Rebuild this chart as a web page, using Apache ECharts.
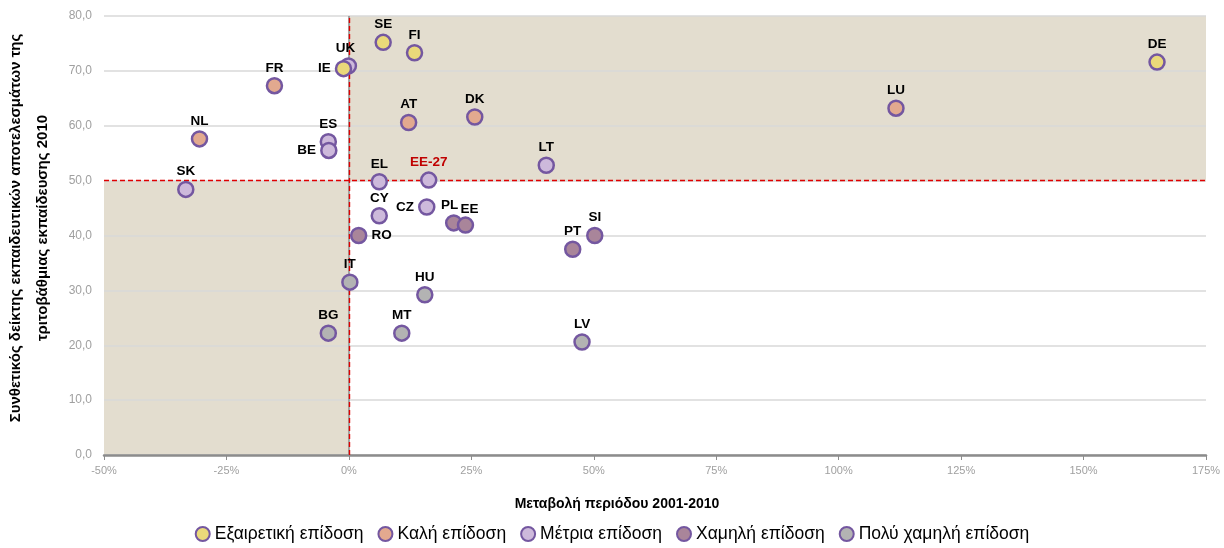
<!DOCTYPE html>
<html>
<head>
<meta charset="utf-8">
<script src="https://cdn.jsdelivr.net/npm/echarts@6/dist/echarts.min.js"></script>
<style>
html,body{margin:0;padding:0;background:#fff;}
#chart{width:1224px;height:548px;}
</style>
</head>
<body>
<div id="chart"></div>
<script>
// ---- data ----
const groupNames = ['Εξαιρετική επίδοση', 'Καλή επίδοση', 'Μέτρια επίδοση', 'Χαμηλή επίδοση', 'Πολύ χαμηλή επίδοση'];
const countries = ['SE','FI','IE','DE','FR','NL','AT','DK','LU','UK','ES','BE','SK','EL','EE-27','CY','CZ','LT','PL','EE','RO','PT','SI','IT','HU','BG','MT','LV'];
const changePct = [7.0, 13.4, -1.1, 165.0, -15.2, -30.5, 12.2, 25.7, 111.7, -0.1, -4.2, -4.1, -33.3, 6.2, 16.3, 6.2, 15.9, 40.3, 21.4, 23.8, 2.0, 45.7, 50.2, 0.2, 15.5, -4.2, 10.8, 47.6];
const indexScore = [75.2, 73.3, 70.4, 71.6, 67.3, 57.6, 60.6, 61.6, 63.2, 70.9, 57.1, 55.5, 48.4, 49.8, 50.1, 43.6, 45.2, 52.8, 42.3, 41.9, 40.0, 37.5, 40.0, 31.5, 29.2, 22.2, 22.2, 20.6];
const groupOf = [0,0,0,0,1,1,1,1,1,2,2,2,2,2,2,2,2,2,3,3,3,3,3,4,4,4,4,4];
const xTicks = [-50, -25, 0, 25, 50, 75, 100, 125, 150, 175];
const yTicks = [0, 10, 20, 30, 40, 50, 60, 70, 80];
const xThreshold = 0;
const yThreshold = 50;

// ---- style ----
const groupColors = ['#EAD97A', '#E2A98F', '#CDB9DB', '#A9859A', '#B3B3B3'];
const borderCol = '#7457A0';
const labelPos = { IE: 'left', BE: 'left', CZ: 'left', RO: 'right' };
const labelOffset = { PL: [-4, 0], EE: [4, 2], UK: [-3, 0] };
const uiFont = 'Liberation Sans, sans-serif';

const series = groupNames.map((name, g) => {
  const data = [];
  countries.forEach((c, i) => {
    if (groupOf[i] !== g) return;
    const item = { name: c, value: [changePct[i], indexScore[i]] };
    const pos = labelPos[c] || 'top';
    item.label = { position: pos, distance: pos === 'top' ? 2 : 4 };
    if (labelOffset[c]) item.label.offset = labelOffset[c];
    if (c === 'EE-27') item.label.color = '#C00000';
    data.push(item);
  });
  return {
    name: name,
    type: 'scatter',
    z: g === 0 ? 8 : 7,
    symbol: 'circle',
    symbolSize: 15,
    itemStyle: { color: groupColors[g], borderColor: borderCol, borderWidth: 2.5, opacity: 1 },
    label: {
      show: true,
      formatter: '{b}',
      color: '#000',
      fontWeight: 'bold',
      fontSize: 13.5,
      fontFamily: uiFont
    },
    emphasis: { disabled: true },
    data: data
  };
});

// background shading
series.unshift({
  name: 'bg',
  type: 'scatter',
  z: -1,
  data: [],
  silent: true,
  markArea: {
    silent: true,
    z: -1,
    itemStyle: { color: '#E3DDCF' },
    data: [
      [{ coord: [xThreshold, yThreshold] }, { coord: [xTicks[xTicks.length - 1], yTicks[yTicks.length - 1]] }],
      [{ coord: [xTicks[0], yTicks[0]] }, { coord: [xThreshold, yThreshold] }]
    ]
  }
});
// gray vertical axis line at x = 0
series.push({
  name: 'axis0',
  type: 'scatter',
  z: 3,
  data: [],
  silent: true,
  markLine: {
    silent: true,
    z: 3,
    symbol: 'none',
    label: { show: false },
    lineStyle: { color: '#8C8C8C', type: 'solid', width: 1.5 },
    data: [{ xAxis: xThreshold }]
  }
});
// red dashed threshold lines
series.push({
  name: 'lines',
  type: 'scatter',
  z: 5,
  data: [],
  silent: true,
  markLine: {
    silent: true,
    z: 5,
    symbol: 'none',
    label: { show: false },
    lineStyle: { color: '#E00000', type: [5, 3], width: 1.4 },
    data: [{ xAxis: xThreshold }, { yAxis: yThreshold }]
  }
});

const chart = echarts.init(document.getElementById('chart'), null, { renderer: 'canvas' });
chart.setOption({
  animation: false,
  backgroundColor: '#fff',
  grid: { left: 104, right: 18, top: 16, bottom: 93, containLabel: false },
  xAxis: {
    type: 'value',
    min: xTicks[0],
    max: xTicks[xTicks.length - 1],
    interval: 25,
    axisLine: { onZero: false, lineStyle: { color: '#8C8C8C', width: 2.5 } },
    axisTick: { show: true, length: 5, lineStyle: { color: '#8C8C8C', width: 1 } },
    axisLabel: { color: '#A0A0A0', fontSize: 11, fontFamily: uiFont, margin: 10, formatter: v => v + '%' },
    splitLine: { show: false }
  },
  yAxis: {
    type: 'value',
    min: yTicks[0],
    max: yTicks[yTicks.length - 1],
    interval: 10,
    axisLine: { show: false },
    axisTick: { show: false },
    axisLabel: { color: '#A0A0A0', fontSize: 12, fontFamily: uiFont, margin: 12, formatter: v => v.toFixed(1).replace('.', ',') },
    splitLine: { show: true, lineStyle: { color: '#D9D9D9', width: 1.5 } }
  },
  legend: {
    data: groupNames,
    bottom: 0,
    left: 'center',
    icon: 'circle',
    itemWidth: 14,
    itemHeight: 14,
    itemGap: 14,
    textStyle: { fontSize: 17.5, color: '#000', fontFamily: uiFont }
  },
  graphic: [
    {
      type: 'text',
      x: 617, y: 504,
      style: { text: 'Μεταβολή περιόδου 2001-2010', font: 'bold 14px Liberation Sans, sans-serif', fill: '#000', textAlign: 'center', textVerticalAlign: 'middle' }
    },
    {
      type: 'text',
      x: 29, y: 228,
      rotation: Math.PI / 2,
      style: { text: 'Συνθετικός δείκτης εκπαιδευτικών αποτελεσμάτων της\nτριτοβάθμιας εκπαίδευσης 2010', font: 'bold 15px Liberation Sans, sans-serif', fill: '#000', textAlign: 'center', textVerticalAlign: 'middle', lineHeight: 27 }
    }
  ],
  series: series
});
</script>
</body>
</html>
